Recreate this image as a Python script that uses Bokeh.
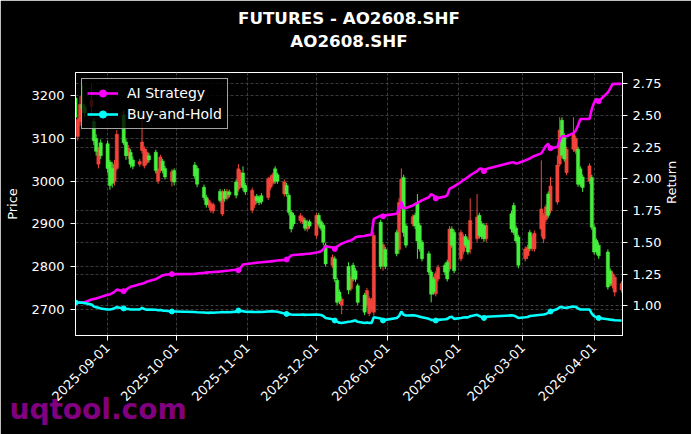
import pandas as pd
from bokeh.plotting import figure
from bokeh.models import (Range1d, LinearAxis, FixedTicker, DatetimeTickFormatter,
                          PrintfTickFormatter, Grid, Legend, LegendItem, Title)
from bokeh.embed import file_html
from bokeh.resources import INLINE

# ---------------- data ----------------
holidays = ["2025-10-01", "2025-10-02", "2025-10-03", "2025-10-06", "2025-10-07", "2025-10-08",
            "2026-01-01", "2026-01-02", "2026-02-16", "2026-02-17", "2026-02-18", "2026-02-19",
            "2026-02-20", "2026-02-23", "2026-04-06"]
bdays = pd.bdate_range("2025-08-18", "2026-04-13")
dates = bdays[~bdays.isin(pd.to_datetime(holidays))]

opens = [3195, 3105, 3140, 3180, 3175, 3175, 3140, 3100, 3040, 3090,
         3088, 3045, 3030, 3000, 3030, 3155, 3092, 3060, 3068, 3050,
         3040, 3072, 3036, 3043, 3060, 3068, 3000, 3025, 3047, 3030,
         3000, 3025, 3038, 3030, 2986, 2962, 2944, 2932, 2930, 2976,
         2923, 2976, 2960, 2975, 2998, 2982, 2990, 3019, 2990, 2932,
         2945, 2965, 2962, 2966, 2962, 2986, 2995, 3029, 3015, 2970,
         2990, 2967, 2927, 2920, 2908, 2905, 2908, 2888, 2905, 2873,
         2920, 2905, 2897, 2850, 2803, 2818, 2768, 2740, 2709, 2800,
         2748, 2803, 2790, 2755, 2733, 2709, 2690, 2700, 2693, 2904,
         2803, 2840, 2880, 2840, 2944, 3009, 2895, 2900, 2920, 2950,
         2896, 2857, 2830, 2787, 2770, 2736, 2771, 2803, 2810, 2794,
         2888, 2880, 2818, 2835, 2870, 2861, 2841, 2865, 2920, 2900,
         2896, 2865, 2924, 2943, 2890, 2869, 2818, 2825, 2880, 2842,
         2841, 2888, 2865, 2910, 2970, 2931, 2951, 3040, 3143, 3107,
         3020, 3075, 3070, 3075, 3029, 3010, 3000, 3009, 2892, 2861,
         2850, 2834, 2790, 2755, 2740, 2745]
closes = [3150, 3145, 3180, 3170, 3160, 3190, 3095, 3070, 3072, 3060,
          3030, 2990, 2995, 3040, 3110, 3090, 3060, 3078, 3040, 3035,
          3046, 3092, 3076, 3068, 3050, 3025, 3025, 3057, 3025, 3010,
          3022, 2998, 3012, 2993, 2962, 2945, 2955, 2947, 2945, 2955,
          2974, 2959, 2976, 2968, 2967, 3029, 3020, 2985, 2975, 2979,
          2960, 2955, 2950, 2952, 3005, 3008, 3015, 3000, 3000, 2998,
          2970, 2927, 2888, 2900, 2919, 2915, 2890, 2905, 2895, 2920,
          2900, 2890, 2857, 2806, 2822, 2771, 2716, 2720, 2724, 2745,
          2771, 2771, 2770, 2716, 2693, 2744, 2725, 2720, 2873, 2800,
          2851, 2800, 2830, 2950, 3005, 2880, 2850, 2917, 2895, 2860,
          2841, 2818, 2787, 2735, 2740, 2783, 2798, 2787, 2771, 2888,
          2850, 2790, 2880, 2870, 2850, 2834, 2908, 2916, 2873, 2870,
          2865, 2896, 2888, 2880, 2860, 2803, 2841, 2845, 2842, 2870,
          2878, 2935, 2919, 2940, 2920, 2989, 3038, 3120, 3061, 3052,
          3075, 3111, 3100, 2993, 2993, 2985, 3036, 2892, 2834, 2834,
          2825, 2752, 2760, 2783, 2775, 2760]
highs = [3205, 3150, 3200, 3225, 3182, 3230, 3148, 3110, 3080, 3098,
         3095, 3050, 3045, 3050, 3120, 3165, 3100, 3085, 3075, 3058,
         3052, 3155, 3082, 3075, 3066, 3074, 3030, 3062, 3052, 3036,
         3028, 3030, 3045, 3036, 2992, 2968, 2960, 2952, 2950, 2982,
         2980, 2982, 2982, 2980, 3004, 3040, 3026, 3035, 2996, 2985,
         2966, 2970, 2967, 2972, 3010, 3014, 3020, 3035, 3020, 3004,
         2996, 2972, 2932, 2926, 2925, 2920, 2914, 2910, 2910, 2926,
         2926, 2910, 2902, 2856, 2828, 2824, 2774, 2746, 2730, 2810,
         2777, 2809, 2796, 2760, 2738, 2750, 2730, 2726, 2880, 2910,
         2857, 2846, 2886, 2960, 3030, 3015, 2900, 2922, 2926, 2970,
         2902, 2862, 2836, 2792, 2776, 2789, 2804, 2808, 2816, 2895,
         2894, 2886, 2886, 2876, 2876, 2866, 2960, 2970, 2926, 2906,
         2902, 2902, 2930, 2950, 2896, 2874, 2847, 2851, 2886, 2876,
         2884, 3049, 2925, 2946, 2976, 3010, 3060, 3150, 3150, 3113,
         3081, 3150, 3106, 3081, 3035, 3016, 3042, 3015, 2898, 2866,
         2856, 2840, 2796, 2789, 2781, 2766]
lows = [3140, 3095, 3130, 3160, 3150, 3150, 3085, 3060, 3030, 3052,
        3020, 2980, 2985, 2990, 3025, 3085, 3050, 3052, 3032, 3028,
        3034, 3065, 3030, 3038, 3044, 3018, 2994, 3020, 3018, 3004,
        2988, 2990, 3005, 2986, 2955, 2938, 2938, 2926, 2924, 2950,
        2918, 2952, 2955, 2962, 2960, 2976, 2984, 2978, 2968, 2925,
        2938, 2948, 2944, 2946, 2956, 2980, 2990, 2994, 2994, 2964,
        2964, 2920, 2880, 2894, 2902, 2900, 2884, 2882, 2889, 2866,
        2894, 2884, 2850, 2800, 2797, 2764, 2710, 2712, 2688, 2735,
        2742, 2765, 2764, 2710, 2686, 2703, 2684, 2694, 2685, 2794,
        2790, 2794, 2824, 2830, 2935, 2870, 2844, 2894, 2888, 2818,
        2835, 2812, 2780, 2716, 2734, 2730, 2765, 2780, 2765, 2788,
        2844, 2784, 2812, 2828, 2844, 2828, 2830, 2858, 2866, 2864,
        2858, 2858, 2880, 2874, 2854, 2796, 2812, 2818, 2836, 2836,
        2835, 2870, 2855, 2904, 2914, 2925, 2945, 3034, 3055, 3046,
        3014, 3069, 3064, 2987, 2987, 2975, 2994, 2886, 2828, 2828,
        2818, 2746, 2754, 2749, 2730, 2739]

ai_strategy = [1.025, 1.025, 1.027, 1.028, 1.029, 1.050, 1.055, 1.058, 1.065, 1.070,
               1.087, 1.090, 1.100, 1.110, 1.128, 1.116, 1.125, 1.140, 1.150, 1.155,
               1.170, 1.175, 1.180, 1.190, 1.195, 1.210, 1.220, 1.230, 1.240, 1.245,
               1.250, 1.250, 1.252, 1.255, 1.260, 1.262, 1.264, 1.265, 1.267, 1.270,
               1.272, 1.274, 1.276, 1.278, 1.285, 1.280, 1.300, 1.325, 1.328, 1.335,
               1.338, 1.340, 1.342, 1.344, 1.348, 1.350, 1.352, 1.355, 1.357, 1.362,
               1.365, 1.380, 1.397, 1.400, 1.405, 1.405, 1.408, 1.410, 1.410, 1.420,
               1.425, 1.430, 1.445, 1.470, 1.460, 1.448, 1.465, 1.480, 1.490, 1.510,
               1.515, 1.525, 1.540, 1.545, 1.550, 1.555, 1.558, 1.560, 1.685, 1.710,
               1.705, 1.712, 1.725, 1.760, 1.818, 1.766, 1.770, 1.790, 1.800, 1.810,
               1.820, 1.830, 1.855, 1.880, 1.870, 1.846, 1.850, 1.860, 1.871, 1.920,
               1.930, 1.940, 1.975, 1.990, 2.000, 2.013, 2.028, 2.060, 2.078, 2.080,
               2.060, 2.078, 2.128, 2.130, 2.120, 2.125, 2.145, 2.152, 2.160, 2.170,
               2.180, 2.200, 2.230, 2.260, 2.275, 2.240, 2.250, 2.300, 2.335, 2.335,
               2.335, 2.360, 2.380, 2.420, 2.470, 2.471, 2.471, 2.550, 2.600, 2.630,
               2.610, 2.680, 2.710, 2.745, 2.747, 2.747]
buy_and_hold = [1.027, 1.027, 1.026, 1.025, 1.022, 1.010, 0.995, 0.990, 0.985, 0.980,
                0.972, 0.972, 0.975, 0.982, 0.990, 0.980, 0.975, 0.975, 0.972, 0.972,
                0.972, 0.985, 0.975, 0.970, 0.972, 0.970, 0.965, 0.968, 0.963, 0.962,
                0.956, 0.956, 0.952, 0.950, 0.948, 0.946, 0.945, 0.948, 0.946, 0.950,
                0.952, 0.950, 0.951, 0.950, 0.955, 0.963, 0.960, 0.958, 0.955, 0.953,
                0.952, 0.952, 0.953, 0.952, 0.956, 0.957, 0.957, 0.956, 0.954, 0.940,
                0.937, 0.935, 0.932, 0.930, 0.930, 0.931, 0.929, 0.930, 0.930, 0.932,
                0.930, 0.928, 0.920, 0.905, 0.895, 0.885, 0.875, 0.868, 0.866, 0.875,
                0.877, 0.882, 0.885, 0.875, 0.866, 0.870, 0.866, 0.866, 0.911, 0.900,
                0.885, 0.890, 0.905, 0.920, 0.956, 0.930, 0.924, 0.925, 0.924, 0.920,
                0.915, 0.910, 0.898, 0.890, 0.887, 0.885, 0.890, 0.895, 0.898, 0.910,
                0.915, 0.898, 0.905, 0.908, 0.910, 0.910, 0.918, 0.930, 0.920, 0.912,
                0.905, 0.915, 0.925, 0.924, 0.915, 0.905, 0.910, 0.913, 0.920, 0.922,
                0.924, 0.930, 0.932, 0.937, 0.945, 0.956, 0.975, 0.990, 0.990, 0.985,
                0.985, 0.995, 0.992, 0.980, 0.972, 0.972, 0.972, 0.940, 0.920, 0.911,
                0.905, 0.895, 0.892, 0.890, 0.887, 0.885]

price_ticks = [2700, 2800, 2900, 3000, 3100, 3200]
return_ticks = [1.00, 1.25, 1.50, 1.75, 2.00, 2.25, 2.50, 2.75]
month_ticks = ["2025-09-01", "2025-10-01", "2025-11-01", "2025-12-01",
               "2026-01-01", "2026-02-01", "2026-03-01", "2026-04-01"]

# ---------------- styling ----------------
UP = "#f2443a"
DOWN = "#46ee3c"
FONT = "DejaVu Sans"
DAY_MS = 86400000

p = figure(width=691, height=434, x_axis_type="datetime", output_backend="svg",
           toolbar_location=None, title=None,
           x_range=Range1d(pd.Timestamp("2025-08-18"), pd.Timestamp("2026-04-13 09:00")),
           y_range=Range1d(2638.3, 3254.9),
           min_border_left=75, min_border_right=69, min_border_top=72, min_border_bottom=99,
           background_fill_color="black", border_fill_color="black",
           outline_line_color="white", outline_line_width=1)
p.extra_y_ranges = {"ret": Range1d(0.767, 2.8366)}

# candles
up_idx = [i for i in range(len(dates)) if closes[i] >= opens[i]]
dn_idx = [i for i in range(len(dates)) if closes[i] < opens[i]]
for idx, col in ((up_idx, UP), (dn_idx, DOWN)):
    d = [dates[i] for i in idx]
    p.segment(d, [highs[i] for i in idx], d, [lows[i] for i in idx], color=col, line_width=1)
    p.vbar(x=d, width=1.4 * DAY_MS, top=[max(opens[i], closes[i]) for i in idx],
           bottom=[min(opens[i], closes[i]) for i in idx], fill_color=col, line_color=col,
           line_width=0.5)

# strategy lines
l_ai = p.line(dates, ai_strategy, y_range_name="ret", color="#ff00ff", line_width=2.6)
m_ai = p.scatter(dates[::15], ai_strategy[::15], y_range_name="ret", size=5,
                 color="#ff00ff", marker="circle")
l_bh = p.line(dates, buy_and_hold, y_range_name="ret", color="#00ffff", line_width=2.6)
m_bh = p.scatter(dates[::15], buy_and_hold[::15], y_range_name="ret", size=5,
                 color="#00ffff", marker="circle")

# axes
xt = FixedTicker(ticks=[pd.Timestamp(t).value // 10**6 for t in month_ticks])
p.xaxis.ticker = xt
fmt = "%Y-%m-%d"
p.xaxis.formatter = DatetimeTickFormatter(milliseconds=fmt, seconds=fmt, minsec=fmt, minutes=fmt,
                                          hourmin=fmt, hours=fmt, days=fmt, months=fmt, years=fmt,
                                          strip_leading_zeros=False, context=None)
p.xaxis.major_label_orientation = 0.785398
p.yaxis.ticker = FixedTicker(ticks=price_ticks)
p.yaxis.axis_label = "Price"

right = LinearAxis(y_range_name="ret", axis_label="Return",
                   ticker=FixedTicker(ticks=return_ticks),
                   formatter=PrintfTickFormatter(format="%.2f"))
p.add_layout(right, "right")

for ax in [p.xaxis[0], p.yaxis[0], right]:
    ax.axis_line_color = "white"
    ax.major_tick_line_color = "white"
    ax.minor_tick_line_color = None
    ax.major_tick_out = 5
    ax.major_tick_in = 0
    ax.major_label_text_color = "white"
    ax.major_label_text_font = FONT
    ax.major_label_text_font_size = "13px"
    ax.major_label_standoff = 5
    ax.axis_label_text_color = "white"
    ax.axis_label_text_font = FONT
    ax.axis_label_text_font_size = "13px"
    ax.axis_label_text_font_style = "normal"
    ax.axis_label_standoff = 7
p.yaxis[0].major_label_standoff = 6
p.yaxis[0].axis_label_standoff = 8
right.axis_label_orientation = 1.5708

# grids
GRID = "#4a4a4a"
p.xgrid.ticker = xt
p.ygrid.ticker = FixedTicker(ticks=price_ticks)
for g in (p.xgrid[0], p.ygrid[0]):
    g.grid_line_color = GRID
    g.grid_line_dash = "3 2"
    g.grid_line_width = 0.8
p.add_layout(Grid(dimension=1, ticker=FixedTicker(ticks=return_ticks), y_range_name="ret",
                  grid_line_color=GRID, grid_line_dash="3 2", grid_line_width=0.8))

# legend
legend = Legend(items=[LegendItem(label="AI Strategy", renderers=[l_ai, m_ai]),
                       LegendItem(label="Buy-and-Hold", renderers=[l_bh, m_bh])],
                location="top_left", margin=6, padding=5, spacing=3,
                glyph_width=31, glyph_height=18, label_standoff=9,
                label_text_color="white", label_text_font=FONT, label_text_font_size="14px",
                background_fill_color="black", background_fill_alpha=0.8,
                border_line_color="#cccccc", border_line_alpha=0.8, border_line_width=1)
p.add_layout(legend)

# titles (stacked outward from the frame: spacer, second line, first line)
title_style = dict(align="center", vertical_align="top", text_color="white", text_font=FONT,
                   text_font_size="16.7px", text_font_style="bold")
p.add_layout(Title(text=" ", text_font_size="1px", text_color="black", standoff=22), "above")
p.add_layout(Title(text="AO2608.SHF", standoff=-10, **title_style), "above")
p.add_layout(Title(text="FUTURES - AO2608.SHF", standoff=11, **title_style), "above")

# watermark, placed in the panel under the x axis
p.add_layout(Title(text="uqtool.com", align="left", vertical_align="top", offset=-66,
                   standoff=-32, text_color="#800080", text_font=FONT,
                   text_font_size="28px", text_font_style="bold"), "below")

open("out.html", "w").write(file_html(p, INLINE))
